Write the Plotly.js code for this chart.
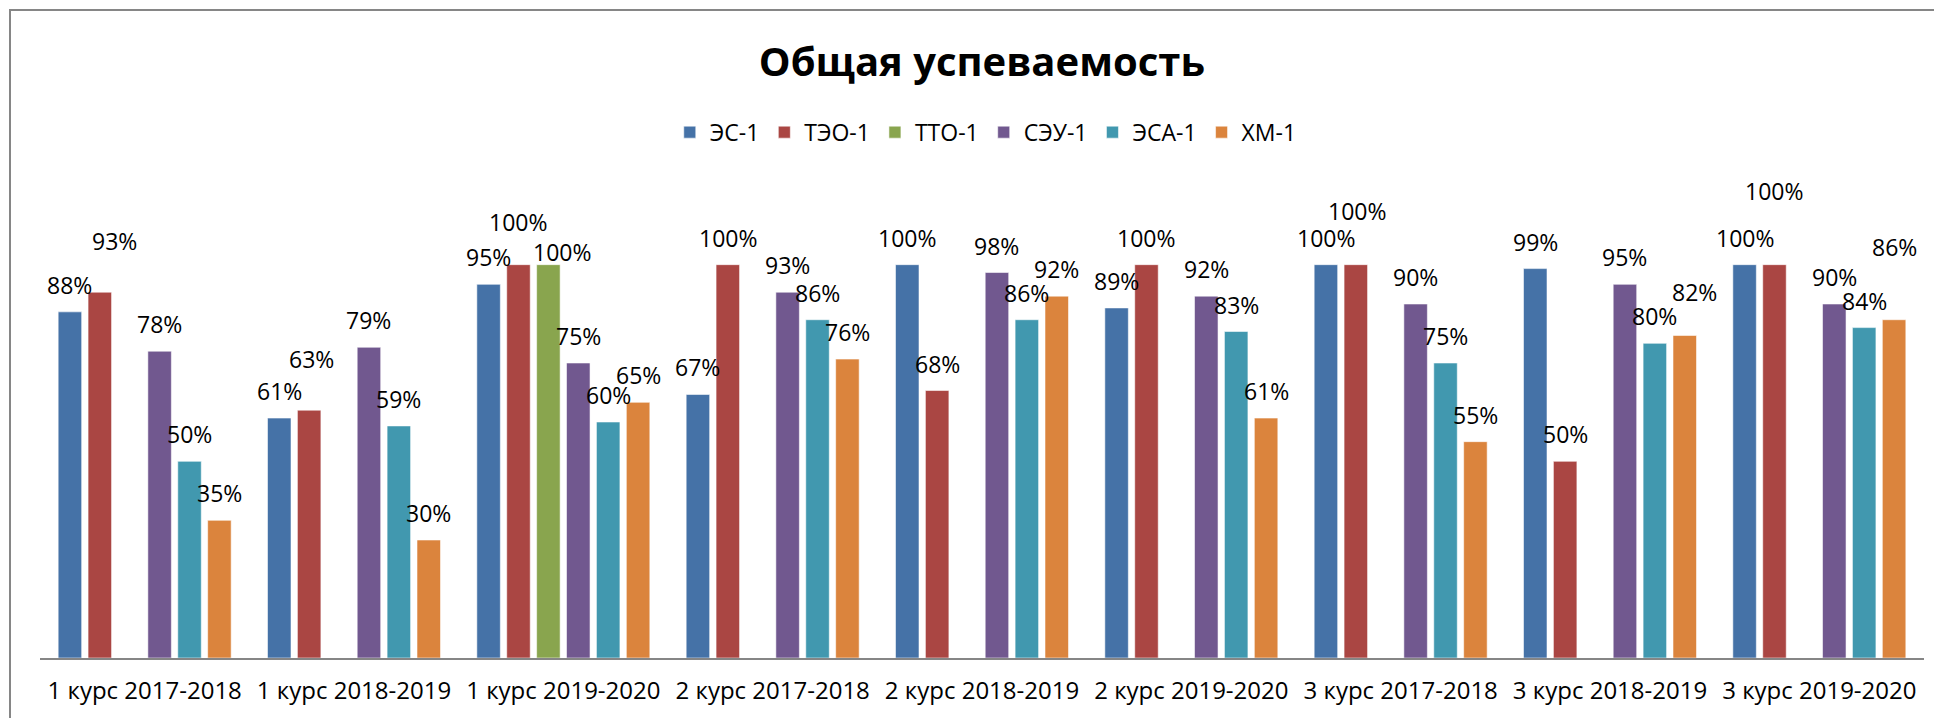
<!DOCTYPE html>
<html><head><meta charset="utf-8">
<script src="https://cdn.plot.ly/plotly-3.0.1.min.js"></script>
<style>
html,body{margin:0;padding:0;background:#fff;overflow:hidden;}
#chart{width:1934px;height:718px;}
#frame{position:absolute;left:9px;top:9px;width:1930px;height:720px;border-left:2px solid #868686;border-top:2px solid #868686;pointer-events:none;}
</style></head><body>
<div id="chart"></div><div id="frame"></div>
<script>
// ---- data ----
const categories = ['1 курс 2017-2018','1 курс 2018-2019','1 курс 2019-2020','2 курс 2017-2018','2 курс 2018-2019','2 курс 2019-2020','3 курс 2017-2018','3 курс 2018-2019','3 курс 2019-2020'];
const seriesNames = ['ЭС-1','ТЭО-1','ТТО-1','СЭУ-1','ЭСА-1','ХМ-1'];
const es1  = [88, 61, 95, 67, 100, 89, 100, 99, 100];
const teo1 = [93, 63, 100, 100, 68, 100, 100, 50, 100];
const tto1 = [null, null, 100, null, null, null, null, null, null];
const seu1 = [78, 79, 75, 93, 98, 92, 90, 95, 90];
const esa1 = [50, 59, 60, 86, 86, 83, 75, 80, 84];
const hm1  = [35, 30, 65, 76, 92, 61, 55, 82, 86];

// ---- styling ----
const colors = ['#4572A7','#AA4643','#89A54E','#71588F','#4198AF','#DB843D'];
const FONT = 'Open Sans, Noto Sans, sans-serif';
const W = 1934, H = 718;
const margin = {l:40, r:10, t:186, b:60};
const bargap = 0.143, bargroupgap = 0.214;
// manual label nudges (px): [seriesIndex, categoryIndex, dx, dyUp]
const labelNudges = [[1,0,15,24],[1,1,2,24],[1,2,0,16],[2,2,14,-14],[1,6,1,27],[5,7,10,16],[1,8,0,47],[5,8,0,46]];

const allSeries = [es1, teo1, tto1, seu1, esa1, hm1];
const traces = allSeries.map((vals, i) => ({
  type: 'bar', name: seriesNames[i], x: categories, y: vals,
  marker: {color: colors[i], line: {color: 'rgba(255,255,255,0.55)', width: 1}},
  hoverinfo: 'skip'
}));

const plotW = W - margin.l - margin.r;
const slot = plotW / categories.length * (1 - bargap) / seriesNames.length;
const annotations = [];
allSeries.forEach((vals, i) => {
  vals.forEach((v, j) => {
    if (v === null) return;
    let dx = 0, dy = 0;
    labelNudges.forEach(n => { if (n[0] === i && n[1] === j) { dx = n[2]; dy = n[3]; } });
    annotations.push({
      x: categories[j], y: v, xref: 'x', yref: 'y', text: v + '%', showarrow: false,
      xanchor: 'center', yanchor: 'middle',
      xshift: (i - (seriesNames.length - 1) / 2) * slot + dx, yshift: 27 + dy,
      font: {family: FONT, size: 23, color: '#000'}
    });
  });
});

const layout = {
  width: W, height: H, margin: margin,
  paper_bgcolor: '#fff', plot_bgcolor: '#fff',
  barmode: 'group', bargap: bargap, bargroupgap: bargroupgap,
  title: {text: '<b>Общая успеваемость</b>', font: {family: FONT, size: 40, color: '#000'},
          xref: 'container', yref: 'container', x: 0.5077, y: 0.9136, xanchor: 'center', yanchor: 'middle'},
  legend: {orientation: 'h', x: 0.502, xanchor: 'center', y: 1.114, yanchor: 'middle',
           font: {family: FONT, size: 23, color: '#000'}, traceorder: 'normal'},
  xaxis: {type: 'category', showline: true, linecolor: '#868686', linewidth: 2, ticks: '',
          ticklabelstandoff: 10,
          showgrid: false, zeroline: false, tickfont: {family: FONT, size: 24, color: '#000'}},
  yaxis: {range: [0, 120], visible: false, showgrid: false, zeroline: false},
  annotations: annotations,
  showlegend: true
};
Plotly.newPlot('chart', traces, layout, {displayModeBar: false, staticPlot: true});
</script>
</body></html>
